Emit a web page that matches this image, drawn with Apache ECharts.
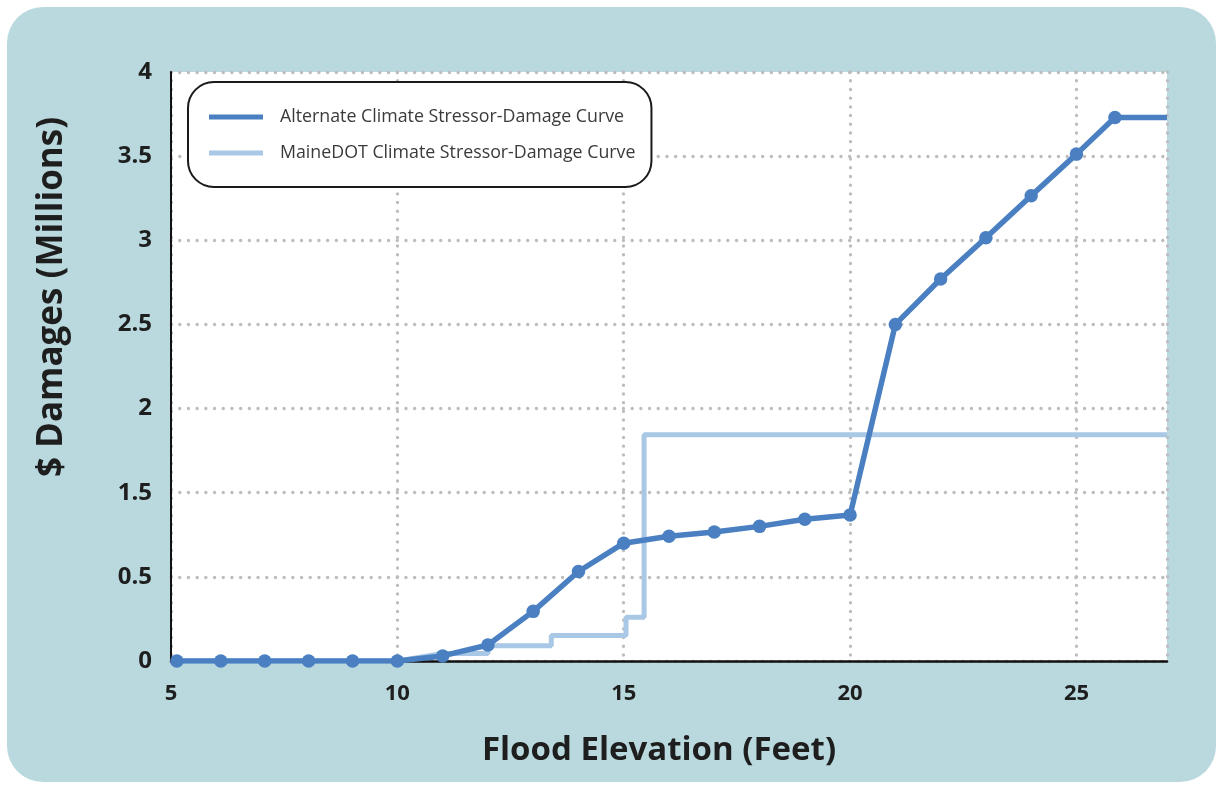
<!DOCTYPE html>
<html>
<head>
<meta charset="utf-8">
<script src="https://cdn.jsdelivr.net/npm/echarts@6/dist/echarts.min.js"></script>
<style>
  html, body { margin: 0; padding: 0; background: #ffffff; }
  #chart { width: 1218px; height: 789px; }
</style>
</head>
<body>
<div id="chart"></div>
<script>
// Flood elevation (feet) for the alternate curve points
const altElevation = [5.13, 6.1, 7.07, 8.04, 9.01, 10, 11, 12, 13, 14, 15, 16, 17, 18, 19, 20, 21, 22, 23, 24, 25, 25.85, 27];
// Damage level of the alternate curve, in axis units (one gridline = 0.5)
const altDamage = [0, 0, 0, 0, 0, 0, 0.03, 0.095, 0.295, 0.532, 0.70, 0.741, 0.766, 0.80, 0.842, 0.867, 2.0, 2.27, 2.515, 2.765, 3.012, 3.23, 3.23];

// MaineDOT step curve: elevation and damage (axis units) at each corner
const dotElevation = [5.13, 10, 11, 12, 12, 13.4, 13.4, 15.05, 15.05, 15.45, 15.45, 27];
const dotDamage = [0, 0, 0.045, 0.045, 0.09, 0.09, 0.152, 0.152, 0.26, 0.26, 1.345, 1.345];

// Labels printed beside the damage gridlines, bottom to top
const damageTickLabels = ['0', '0.5', '1.5', '2', '2.5', '3', '3.5', '4'];

const altName = 'Alternate Climate Stressor-Damage Curve';
const dotName = 'MaineDOT Climate Stressor-Damage Curve';
const yTitle = '$ Damages (Millions)';
const xTitle = 'Flood Elevation (Feet)';

const DARK = '#4a80c2';
const LIGHT = '#a8c8e6';
const INK = '#1e1e1e';
const FONT = '"Open Sans", "Noto Sans", sans-serif';

const altData = altElevation.map((x, i) => {
  const last = i === altElevation.length - 1;
  return last ? { value: [x, altDamage[i]], symbol: 'none' } : [x, altDamage[i]];
});
const dotData = dotElevation.map((x, i) => [x, dotDamage[i]]);

const chart = echarts.init(document.getElementById('chart'), null, { renderer: 'canvas' });

// round grey dots for the gridlines
const gridDots = { color: '#bdbdbd', width: 3.3, type: [0.1, 8.6], cap: 'round' };

chart.setOption({
  backgroundColor: '#ffffff',
  animation: false,
  graphic: [
    {
      type: 'rect',
      z: -10,
      silent: true,
      shape: { x: 7, y: 7, width: 1209, height: 775, r: 36 },
      style: { fill: '#b9d9de' }
    },
    {
      type: 'text',
      silent: true,
      x: 52, y: 297,
      rotation: Math.PI / 2,
      style: {
        text: yTitle,
        fontFamily: FONT, fontWeight: 'bold', fontSize: 35, fill: INK,
        align: 'center', verticalAlign: 'middle'
      }
    }
  ],
  grid: {
    left: 171, right: 51, top: 72, bottom: 128,
    show: true, backgroundColor: '#ffffff', borderWidth: 0
  },
  legend: {
    orient: 'vertical',
    left: 188, top: 82,
    padding: [25, 16, 24, 21],
    itemGap: 16,
    itemWidth: 54, itemHeight: 5,
    icon: 'rect',
    backgroundColor: '#ffffff',
    borderColor: '#1a1a1a', borderWidth: 2, borderRadius: 26,
    textStyle: { fontFamily: FONT, fontSize: 17.8, color: '#3a3a3a', padding: [0, 0, 0, 12], lineHeight: 20 },
    data: [
      { name: altName, itemStyle: { color: DARK } },
      { name: dotName, itemStyle: { color: LIGHT } }
    ]
  },
  xAxis: {
    type: 'value',
    min: 5, max: 27, interval: 5,
    name: xTitle,
    nameLocation: 'middle',
    nameGap: 73,
    nameTextStyle: { fontFamily: FONT, fontWeight: 'bold', fontSize: 33, color: INK, padding: [0, 20, 0, 0] },
    axisLine: { show: true, onZero: false, lineStyle: { color: '#111', width: 2.5 } },
    axisTick: { show: false },
    axisLabel: {
      margin: 22, fontFamily: FONT, fontWeight: 'bold', fontSize: 22, color: INK,
      showMaxLabel: false
    },
    splitLine: { show: true, lineStyle: gridDots }
  },
  yAxis: {
    type: 'value',
    min: 0, max: 3.5, interval: 0.5,
    axisLine: { show: true, lineStyle: { color: '#111', width: 2 } },
    axisTick: { show: false },
    axisLabel: {
      margin: 19, fontFamily: FONT, fontWeight: 'bold', fontSize: 24, color: INK,
      formatter: v => damageTickLabels[Math.round(v / 0.5)]
    },
    splitLine: { show: true, lineStyle: gridDots }
  },
  series: [
    {
      name: dotName,
      type: 'line',
      data: dotData,
      showSymbol: false,
      symbol: 'none',
      lineStyle: { color: LIGHT, width: 5 },
      itemStyle: { color: LIGHT },
      z: 2
    },
    {
      name: altName,
      type: 'line',
      data: altData,
      symbol: 'circle',
      symbolSize: 13.5,
      showSymbol: true,
      lineStyle: { color: DARK, width: 5.5 },
      itemStyle: { color: DARK },
      z: 3
    }
  ]
});
</script>
</body>
</html>
